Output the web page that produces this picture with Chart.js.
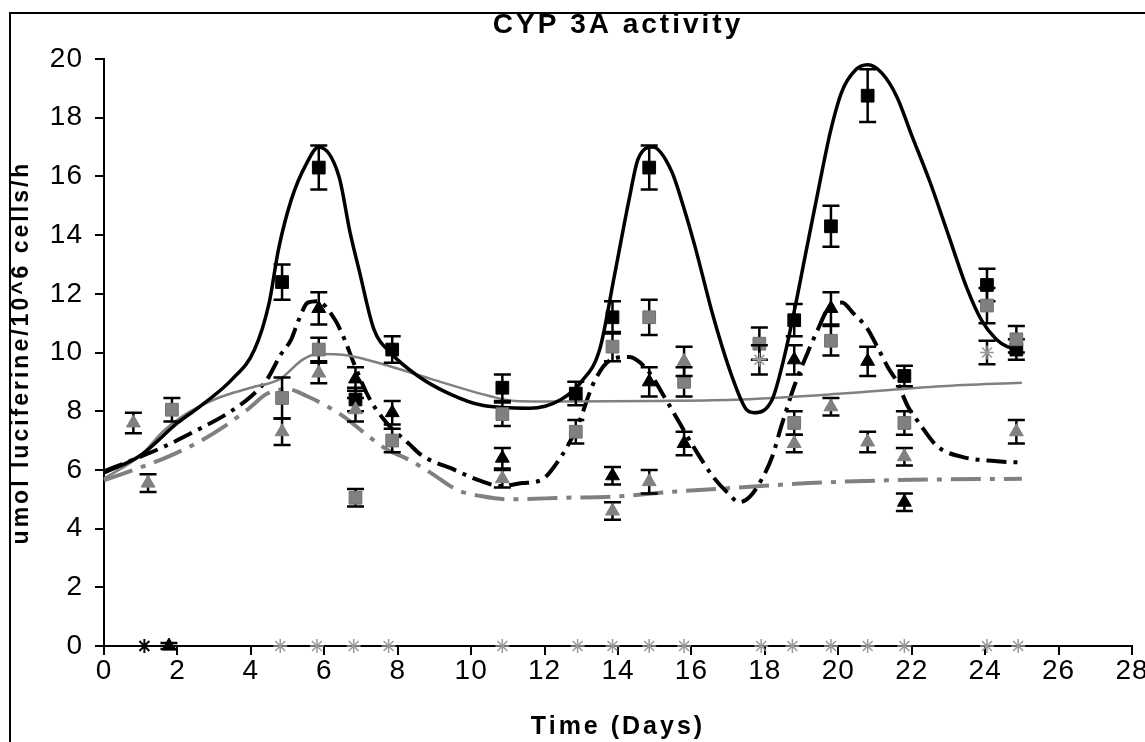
<!DOCTYPE html>
<html>
<head>
<meta charset="utf-8">
<title>CYP 3A activity</title>
<script src="https://cdn.jsdelivr.net/npm/chart.js@4.4.1/dist/chart.umd.min.js"></script>
<style>
  body { margin: 0; background: #fff; }
  #wrap { position: relative; width: 1145px; height: 742px; }
  #frame { position: absolute; left: 9px; top: 12px; right: 0; bottom: 0;
           border-top: 2px solid #000; border-left: 2px solid #000; pointer-events: none; }
</style>
</head>
<body>
<div id="wrap">
  <canvas id="chart" width="1145" height="742"></canvas>
  <div id="frame"></div>
</div>
<script>
// measured points (day, value, sd)
var blackSqDays = [4.85, 5.85, 6.85, 7.85, 10.85, 12.85, 13.85, 14.85, 18.8, 19.8, 20.8, 21.8, 24.05, 24.85]
var blackSqVals = [12.4, 16.3, 8.4, 10.1, 8.8, 8.6, 11.2, 16.3, 11.1, 14.3, 18.75, 9.2, 12.3, 10.1]
var blackSqErr  = [0.6, 0.75, 0.4, 0.45, 0.45, 0.4, 0.55, 0.75, 0.55, 0.7, 0.9, 0.35, 0.55, 0.35]

var graySqDays = [1.85, 4.85, 5.85, 6.85, 7.85, 10.85, 12.85, 13.85, 14.85, 15.8, 17.85, 18.8, 19.8, 21.8, 24.05, 24.85]
var graySqVals = [8.05, 8.45, 10.1, 5.05, 7.0, 7.9, 7.3, 10.2, 11.2, 9.0, 10.3, 7.6, 10.4, 7.6, 11.6, 10.45]
var graySqErr  = [0.4, 0.7, 0.4, 0.3, 0.4, 0.4, 0.4, 0.5, 0.6, 0.5, 0.55, 0.4, 0.5, 0.4, 0.6, 0.45]

var blackTriDays = [1.77, 5.85, 6.85, 7.85, 10.85, 13.85, 14.85, 15.8, 18.8, 19.8, 20.8, 21.8]
var blackTriVals = [0, 11.5, 9.1, 7.95, 6.4, 5.8, 9.0, 6.9, 9.75, 11.5, 9.7, 4.9]
var blackTriErr  = [0.1, 0.55, 0.4, 0.4, 0.35, 0.3, 0.5, 0.4, 0.5, 0.55, 0.5, 0.3]

var grayTriDays = [0.8, 1.2, 4.85, 5.85, 6.85, 10.85, 13.85, 14.85, 15.8, 18.8, 19.8, 20.8, 21.8, 24.85]
var grayTriVals = [7.6, 5.55, 7.3, 9.3, 8.05, 5.7, 4.6, 5.6, 9.7, 6.9, 8.15, 6.95, 6.45, 7.3]
var grayTriErr  = [0.35, 0.3, 0.45, 0.35, 0.4, 0.3, 0.3, 0.4, 0.5, 0.3, 0.3, 0.35, 0.3, 0.4]

var grayStarDays = [4.8, 5.8, 6.8, 7.75, 10.85, 12.9, 13.85, 14.85, 15.8, 17.9, 18.75, 19.8, 20.8, 21.8, 24.05, 24.9, 17.85, 24.05]
var grayStarVals = [0, 0, 0, 0, 0, 0, 0, 0, 0, 0, 0, 0, 0, 0, 0, 0, 9.75, 10.0]
var grayStarErr  = [0, 0, 0, 0, 0, 0, 0, 0, 0, 0, 0, 0, 0, 0, 0, 0, 0.5, 0.4]

var blackStarDays = [1.1]
var blackStarVals = [0]

// fitted curves
var blackFitDays = [0, 1, 2, 2.6, 3.5, 4.1, 4.5, 4.75, 5.1, 5.5, 5.85, 6.4, 6.7, 6.95, 7.35, 7.8, 8.55, 9.4, 10.3, 11.6, 12.45, 13.0, 13.5, 13.9, 14.3, 14.55, 14.95, 15.45, 15.8, 16.1, 16.6, 17.1, 17.5, 17.7, 18.2, 18.5, 18.8, 19.1, 19.45, 19.8, 20.1, 20.45, 20.8, 21.2, 21.6, 22.0, 22.5, 23.0, 23.5, 23.9, 24.3, 24.6, 25.0]
var blackFitVals = [5.9, 6.5, 7.6, 8.15, 9.1, 10.1, 11.7, 13.5, 15.2, 16.4, 17.0, 16.0, 14.1, 12.8, 10.8, 10.0, 9.2, 8.6, 8.2, 8.1, 8.4, 9.0, 10.1, 12.6, 15.2, 16.6, 17.0, 16.2, 14.9, 13.6, 11.2, 9.2, 8.05, 7.95, 8.4, 9.7, 11.4, 13.3, 15.5, 17.6, 18.9, 19.6, 19.8, 19.5, 18.7, 17.4, 15.8, 14.0, 12.2, 11.1, 10.45, 10.2, 10.1]

var grayFitDays = [0, 1, 1.6, 2.1, 3.1, 4.0, 4.8, 5.4, 5.8, 6.65, 7.6, 8.9, 10.55, 11.2, 12.5, 15, 17.35, 20.1, 22.8, 25]
var grayFitVals = [5.7, 6.5, 7.3, 7.8, 8.45, 8.8, 9.1, 9.75, 9.95, 9.9, 9.6, 9.1, 8.5, 8.35, 8.33, 8.35, 8.4, 8.6, 8.85, 8.97]

var blackDashDays = [0, 0.8, 1.65, 2.45, 3.4, 4.0, 4.45, 4.8, 5.1, 5.3, 5.55, 5.8, 6.3, 6.55, 6.8, 7.2, 7.7, 8.3, 8.65, 9.55, 10.2, 10.8, 11.4, 11.9, 12.45, 12.9, 13.35, 13.8, 14.3, 14.8, 15.35, 16.1, 16.6, 17.0, 17.3, 17.6, 17.9, 18.2, 18.45, 18.8, 19.2, 19.45, 19.7, 20.1, 20.4, 20.8, 21.1, 21.35, 21.6, 21.9, 22.2, 22.7, 23.35, 24.25, 25.0]
var blackDashVals = [5.95, 6.35, 6.8, 7.3, 7.95, 8.5, 9.1, 9.9, 10.45, 11.1, 11.7, 11.75, 11.1, 10.45, 9.65, 8.5, 7.6, 6.9, 6.5, 6.0, 5.65, 5.45, 5.55, 5.65, 6.45, 7.5, 9.0, 9.75, 9.85, 9.4, 8.3, 6.7, 5.75, 5.2, 4.9, 5.1, 5.65, 6.45, 7.5, 8.85, 10.1, 10.8, 11.45, 11.7, 11.35, 10.8, 10.1, 9.5, 9.0, 8.15, 7.6, 6.8, 6.45, 6.3, 6.25]

var grayDashDays = [0, 0.8, 1.75, 2.65, 3.3, 3.9, 4.45, 5.0, 5.55, 6.1, 6.55, 7.2, 7.7, 8.3, 8.9, 9.65, 10.3, 11.0, 12.5, 14.0, 15.45, 17.3, 19.2, 21.5, 25.0]
var grayDashVals = [5.65, 6.0, 6.45, 7.0, 7.5, 8.05, 8.6, 8.75, 8.5, 8.15, 7.8, 7.15, 6.7, 6.35, 5.9, 5.3, 5.1, 5.0, 5.05, 5.1, 5.25, 5.4, 5.55, 5.65, 5.7]

var GRAY = '#808080'

function pts(xs, ys) {
    return xs.map(function (x, i) { return { x: x, y: ys[i] } })
}

function curve(xs, ys, color, width, dash) {
    return {
        data: pts(xs, ys),
        showLine: true,
        borderColor: color,
        borderWidth: width,
        borderDash: dash || [],
        pointRadius: 0,
        cubicInterpolationMode: 'monotone',
        clip: false,
        order: 10
    }
}

function markers(xs, ys, errs, style, radius, fill, border, bw) {
    return {
        data: pts(xs, ys),
        errors: errs,
        showLine: false,
        pointStyle: style,
        pointRadius: radius,
        pointHoverRadius: radius,
        pointBackgroundColor: fill,
        pointBorderColor: border,
        pointBorderWidth: bw,
        clip: false,
        order: 1
    }
}

// vertical sd bars, drawn just under each marker set
var errorBars = {
    id: 'errorBars',
    beforeDatasetDraw: function (chart, args) {
        var ds = chart.data.datasets[args.index]
        if (!ds.errors) return
        var ctx = chart.ctx
        var xs = chart.scales.x, ys = chart.scales.y
        ctx.save()
        ctx.strokeStyle = '#000'
        ctx.lineWidth = 2.5
        ds.data.forEach(function (p, i) {
            var e = ds.errors[i]
            if (!e) return
            var px = xs.getPixelForValue(p.x)
            var top = ys.getPixelForValue(p.y + e)
            var bot = ys.getPixelForValue(p.y - e)
            ctx.beginPath()
            ctx.moveTo(px, top); ctx.lineTo(px, bot)
            ctx.moveTo(px - 8.5, top); ctx.lineTo(px + 8.5, top)
            ctx.moveTo(px - 8.5, bot); ctx.lineTo(px + 8.5, bot)
            ctx.stroke()
        })
        ctx.restore()
    }
}

// the old spreadsheet fonts are spaced out
var spacing = {
    id: 'spacing',
    beforeDraw: function (chart) { chart.ctx.letterSpacing = '3px' }
}

// tick numbers are set tighter than the titles
function tightLabels(scale) {
    if (scale._tight) return
    scale._tight = true
    var orig = scale.drawLabels
    scale.drawLabels = function (area) {
        var ctx = this.ctx
        var old = ctx.letterSpacing
        ctx.letterSpacing = '1px'
        orig.call(this, area)
        ctx.letterSpacing = old
    }
}

var tickFont = { family: 'Liberation Sans, Arial', size: 28, lineHeight: 1 }

new Chart(document.getElementById('chart'), {
    type: 'scatter',
    data: {
        datasets: [
            curve(blackFitDays, blackFitVals, '#000', 3.5),
            curve(grayFitDays, grayFitVals, GRAY, 2.5),
            curve(blackDashDays, blackDashVals, '#000', 4, [20, 7, 4, 7]),
            curve(grayDashDays, grayDashVals, GRAY, 4, [30, 9, 5, 9]),
            markers(grayStarDays, grayStarVals, grayStarErr, 'star', 7, '#999', '#999', 1.5),
            markers(blackStarDays, blackStarVals, null, 'star', 7, '#000', '#000', 2),
            markers(grayTriDays, grayTriVals, grayTriErr, 'triangle', 8, GRAY, GRAY, 1),
            markers(blackTriDays, blackTriVals, blackTriErr, 'triangle', 8, '#000', '#000', 1),
            markers(graySqDays, graySqVals, graySqErr, 'rect', 9, GRAY, '#707070', 1),
            markers(blackSqDays, blackSqVals, blackSqErr, 'rect', 9, '#000', '#000', 1)
        ]
    },
    options: {
        responsive: false,
        animation: false,
        events: [],
        layout: { padding: { left: 0, right: 13, top: 0, bottom: 0 } },
        plugins: {
            legend: { display: false },
            tooltip: { enabled: false },
            title: {
                display: true,
                fullSize: false,
                text: 'CYP 3A activity',
                color: '#000',
                font: { family: 'Liberation Sans, Arial', size: 28, weight: 'bold', lineHeight: 1.2 },
                padding: { top: 8, bottom: 17.4 }
            }
        },
        scales: {
            x: {
                type: 'linear',
                min: 0,
                max: 28,
                ticks: { stepSize: 2, color: '#000', padding: 2, font: tickFont },
                grid: { drawOnChartArea: false, drawTicks: true, tickLength: 9, color: '#000', lineWidth: 2 },
                border: { color: '#000', width: 2 },
                title: {
                    display: true,
                    text: 'Time (Days)',
                    color: '#000',
                    padding: { top: 0, bottom: 0 },
                    font: { family: 'Liberation Sans, Arial', size: 25, weight: 'bold', lineHeight: 1.2 }
                },
                afterFit: function (scale) {
                    scale.height = 96
                    scale.paddingLeft = 0
                    scale.paddingRight = 0
                    tightLabels(scale)
                }
            },
            y: {
                type: 'linear',
                min: 0,
                max: 20,
                ticks: { stepSize: 2, color: '#000', padding: 12, font: tickFont },
                grid: { drawOnChartArea: false, drawTicks: true, tickLength: 9, color: '#000', lineWidth: 2 },
                border: { color: '#000', width: 2 },
                title: {
                    display: true,
                    text: 'umol luciferine/10^6 cells/h',
                    color: '#000',
                    padding: { top: 8, bottom: 0 },
                    font: { family: 'Liberation Sans, Arial', size: 23, weight: 'bold', lineHeight: 1.2 }
                },
                afterFit: function (scale) {
                    scale.width = 104
                    scale.paddingTop = 0
                    scale.paddingBottom = 0
                    tightLabels(scale)
                }
            }
        }
    },
    plugins: [errorBars, spacing]
});
</script>
</body>
</html>
